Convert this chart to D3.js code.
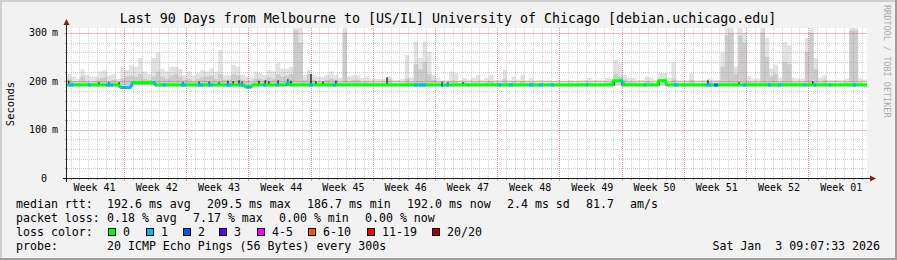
<!DOCTYPE html>
<html>
<head>
<meta charset="utf-8">
<script src="https://cdn.jsdelivr.net/npm/d3@7"></script>
<style>
body { margin: 0; background: #f2f2f2; }
svg text { font-family: "DejaVu Sans Mono", monospace; white-space: pre; }
</style>
</head>
<body>
<script>
var width = 897;
var height = 260;
var plot = {left: 67, right: 867, top: 28, bottom: 178};   //canvas box

var title = "Last 90 Days from Melbourne to [US/IL] University of Chicago [debian.uchicago.edu]";

//axis ticks
var yTicks = [0, 100, 200, 300];
var yTickNums = ["0", "100", "200", "300"];
var yTickUnits = ["", "m", "m", "m"];
var weekLabels = ["Week 41", "Week 42", "Week 43", "Week 44", "Week 45", "Week 46", "Week 47",
                  "Week 48", "Week 49", "Week 50", "Week 51", "Week 52", "Week 01"];
var weekLabelDays = [3.1, 10.1, 17.1, 24.1, 31.1, 38.1, 45.1, 52.1, 59.1, 66.1, 73.1, 80.1, 87.1];
var weekBoundaryDays = [6.4, 13.4, 20.4, 27.4, 34.4, 41.4, 48.4, 55.4, 62.4, 69.4, 76.4, 83.4];

//median rtt (ms), breakpoints in days from graph start
var medianDays = [0, 5.74, 6.07, 7.09, 7.42, 9.79, 10.01, 19.9, 20.1, 20.7, 20.9, 24.6, 24.9, 25.1,
                  61.3, 61.5, 62.4, 62.7, 66.4, 66.6, 67.3, 67.5, 90];
var medianMs = [192, 192, 187, 187, 197, 197, 192, 192, 188, 188, 192, 192, 197, 192,
                192, 201, 201, 192, 192, 201, 201, 192, 192];

//smoke, one value per half day (ms)
var smokeHi = [
  215,210,205,224,213,210,210,220,223,212, 215,205,230,223,234,230,248,220,215,248,
  260,226,220,230,230,226,213,220,212,217, 223,220,226,220,265,213,213,234,230,213,
  210,207,220,217,213,223,220,238,226,226, 230,310,310,213,223,213,210,210,213,220,
  213,207,310,210,213,213,207,210,205,205, 205,205,210,203,203,205,254,207,282,248,
  282,261,213,207,202,202,220,217,203,207, 203,207,213,203,207,213,202,203,223,203,
  210,203,213,202,207,202,203,202,202,200, 203,201,201,202,201,202,203,207,203,203,
  202,207,207,244,238,213,207,207,203,203, 210,207,203,217,217,207,240,203,202,202,
  217,202,202,203,205,203,203,260,310,310, 230,310,300,210,205,205,310,290,226,234,
  207,281,275,207,205,205,290,310,248,207, 213,203,203,203,203,205,310,310,205,203
];
var smokeMid = [
  205,200,198,210,200,198,200,205,208,200, 203,198,205,210,212,210,215,205,203,210,
  220,210,205,212,215,210,203,205,200,205, 208,210,212,205,215,203,203,215,212,203,
  200,198,205,205,203,208,205,215,210,212, 215,305,280,203,215,203,200,200,203,205,
  203,198,300,200,203,203,198,200,197,197, 197,197,205,196,196,197,205,198,235,225,
  240,215,203,198,196,196,200,200,196,198, 196,198,200,196,198,200,196,196,205,196,
  200,196,200,196,198,196,196,196,196,195, 196,195,195,196,195,196,196,198,196,196,
  196,198,198,215,210,203,198,198,196,196, 200,198,196,205,205,198,205,196,196,196,
  203,196,196,196,200,196,196,230,295,300, 215,295,280,200,198,198,300,250,210,215,
  198,240,235,198,198,198,260,300,225,198, 203,196,196,196,196,198,305,305,198,196
];

//dark smoke marks next to the median
var darkDays = [0.2, 3.6, 4.7, 5.85, 13.05, 14.85, 16.0, 17.1, 18.1, 18.7, 19.35, 19.7, 21.6, 22.3, 22.7,
                23.75, 24.85, 25.2, 27.45, 28.0, 28.8, 30.25, 36.0, 42.2, 42.85, 44.55, 61.55, 62.45,
                66.6, 67.4, 72.1, 75.6, 83.9];
var darkMs = [201, 198, 198, 198, 198, 199, 199, 198, 201, 200, 202, 199, 201, 202, 200,
              202, 204, 201, 215, 200, 199, 201, 208, 199, 198, 198, 201, 201,
              201, 201, 202, 198, 200];

//packet loss periods (days) and loss class
var lossStart = [0.22, 2.36, 4.39, 6.07, 9.67, 10.80, 12.82, 14.74, 15.86, 17.89, 19.35, 20.14, 22.05,
                 23.51, 24.64, 27.22, 29.92, 39.04, 39.60, 42.07, 42.64, 45.11, 48.49, 49.72, 51.97,
                 53.10, 54.45, 58.39, 62.32, 64.91, 68.29, 71.89, 72.79, 76.05, 78.86, 79.99, 82.91,
                 84.04, 85.72, 88.42];
var lossEnd = [0.79, 2.70, 5.17, 7.42, 10.01, 11.14, 13.39, 15.30, 16.42, 18.45, 19.80, 20.70, 22.39,
               23.85, 24.97, 27.67, 30.26, 39.49, 40.39, 42.30, 42.97, 45.22, 48.82, 50.17, 52.42,
               53.55, 54.79, 58.61, 62.55, 65.13, 68.74, 72.45, 73.24, 76.39, 79.20, 80.33, 83.13,
               84.26, 85.95, 88.76];
var lossLevel = [1, 1, 1, 1, 1, 1, 1, 1, 1, 1, 1, 1, 1,
                 1, 1, 1, 1, 1, 1, 2, 1, 1, 1, 1, 1,
                 1, 1, 1, 1, 1, 1, 1, 2, 1, 1, 1, 1,
                 1, 1, 1];

var lossColors = ["#00ff00", "#00b8ff", "#0059ff", "#5e00ff", "#ff00ff", "#ff5500", "#ff0000", "#a10000"];
var lossNames = ["0", "1", "2", "3", "4-5", "6-10", "11-19", "20/20"];
var lossBoxX = [108, 146, 183, 219, 257, 308, 367, 432];

var statLine1 = ["192.6 ms avg", "209.5 ms max", "186.7 ms min", "192.0 ms now", "2.4 ms sd", "81.7", "am/s"];
var statLine1X = [107, 207, 307, 407, 507, 586, 630];
var statLine2 = ["0.18 % avg", "7.17 % max", "0.00 % min", "0.00 % now"];
var statLine2X = [107, 193, 279, 365];

var x = d3.scaleLinear().domain([0, 90]).range([plot.left, plot.right]);
var y = d3.scaleLinear().domain([0, 310]).range([plot.bottom, plot.top]);

var svg = d3.select("body").append("svg")
    .attr("width", width)
    .attr("height", height);

//background and 3d frame
svg.append("rect").attr("width", width).attr("height", height).attr("fill", "#f2f2f2");
svg.append("rect").attr("x", 0).attr("y", 0).attr("width", width).attr("height", 2).attr("fill", "#cfcfcf");
svg.append("rect").attr("x", 0).attr("y", 0).attr("width", 2).attr("height", height).attr("fill", "#cfcfcf");
svg.append("rect").attr("x", 0).attr("y", height - 2).attr("width", width).attr("height", 2).attr("fill", "#9e9e9e");
svg.append("rect").attr("x", width - 2).attr("y", 0).attr("width", 2).attr("height", height).attr("fill", "#9e9e9e");

//canvas
svg.append("rect")
    .attr("x", plot.left).attr("y", plot.top)
    .attr("width", plot.right - plot.left).attr("height", plot.bottom - plot.top)
    .attr("fill", "white");

//smoke
function smokeArea(vals){
    var pts = vals.map(function(v, i){ return [i * 0.5, v]; });
    pts.push([90, vals[vals.length - 1]]);
    return d3.area()
        .x(function(d){ return x(d[0]); })
        .y0(y(191))
        .y1(function(d){ return y(d[1]); })
        .curve(d3.curveStepAfter)(pts);
}
svg.append("path").attr("d", smokeArea(smokeHi)).attr("fill", "#e2e2e2");
svg.append("path").attr("d", smokeArea(smokeMid)).attr("fill", "#cbcbcb");

//grid
var minorColor = "rgba(143,143,143,0.4)";
var majorColor = "rgba(222,79,79,0.45)";
var minorDays = d3.range(0.4, 90, 1);
var gridG = svg.append("g");
gridG.selectAll(".vminor").data(minorDays).enter().append("line")
    .attr("x1", function(d){ return Math.round(x(d)) + 0.5; })
    .attr("x2", function(d){ return Math.round(x(d)) + 0.5; })
    .attr("y1", plot.top).attr("y2", plot.bottom)
    .attr("stroke", minorColor).attr("stroke-dasharray", "1,1");
gridG.selectAll(".vminortick").data(minorDays).enter().append("line")
    .attr("x1", function(d){ return Math.round(x(d)) + 0.5; })
    .attr("x2", function(d){ return Math.round(x(d)) + 0.5; })
    .attr("y1", plot.bottom).attr("y2", plot.bottom + 2)
    .attr("stroke", "rgba(143,143,143,0.8)");
var minorMs = d3.range(20, 301, 20);
gridG.selectAll(".hminor").data(minorMs).enter().append("line")
    .attr("x1", plot.left).attr("x2", plot.right)
    .attr("y1", function(d){ return Math.round(y(d)) + 0.5; })
    .attr("y2", function(d){ return Math.round(y(d)) + 0.5; })
    .attr("stroke", minorColor).attr("stroke-dasharray", "1,1");
gridG.selectAll(".hminortick").data(minorMs).enter().append("line")
    .attr("x1", plot.left - 2).attr("x2", plot.left)
    .attr("y1", function(d){ return Math.round(y(d)) + 0.5; })
    .attr("y2", function(d){ return Math.round(y(d)) + 0.5; })
    .attr("stroke", "rgba(143,143,143,0.8)");
gridG.selectAll(".vmajor").data(weekBoundaryDays).enter().append("line")
    .attr("x1", function(d){ return Math.round(x(d)) + 0.5; })
    .attr("x2", function(d){ return Math.round(x(d)) + 0.5; })
    .attr("y1", plot.top).attr("y2", plot.bottom + 3)
    .attr("stroke", majorColor).attr("stroke-dasharray", "1,1");
gridG.selectAll(".hmajor").data(yTicks.slice(1)).enter().append("line")
    .attr("x1", plot.left - 3).attr("x2", plot.right)
    .attr("y1", function(d){ return Math.round(y(d)) + 0.5; })
    .attr("y2", function(d){ return Math.round(y(d)) + 0.5; })
    .attr("stroke", majorColor).attr("stroke-dasharray", "1,1");

//dark smoke marks
svg.selectAll(".dark").data(darkDays).enter().append("rect")
    .attr("x", function(d){ return x(d) - 0.75; })
    .attr("width", 1.5)
    .attr("y", function(d, i){ return y(darkMs[i]); })
    .attr("height", function(d, i){ return y(191) - y(darkMs[i]); })
    .attr("fill", "#333333");

//median line, coloured by loss
var medianPts = medianDays.map(function(d, i){ return [d, medianMs[i]]; });
var medianLine = d3.line()
    .x(function(d){ return x(d[0]); })
    .y(function(d){ return y(d[1]); })(medianPts);
svg.append("path").attr("d", medianLine)
    .attr("fill", "none").attr("stroke", lossColors[0]).attr("stroke-width", 3);
var defs = svg.append("defs");
lossStart.forEach(function(s, i){
    defs.append("clipPath").attr("id", "loss" + i)
        .append("rect")
        .attr("x", x(s)).attr("width", x(lossEnd[i]) - x(s))
        .attr("y", plot.top).attr("height", plot.bottom - plot.top);
    svg.append("path").attr("d", medianLine)
        .attr("clip-path", "url(#loss" + i + ")")
        .attr("fill", "none").attr("stroke", lossColors[lossLevel[i]]).attr("stroke-width", 3);
});

//axes
var axisG = svg.append("g");
axisG.append("line").attr("x1", plot.left - 0.5).attr("x2", plot.left - 0.5)
    .attr("y1", plot.bottom + 4).attr("y2", plot.top - 4)
    .attr("stroke", "#1f1f1f");
axisG.append("line").attr("x1", plot.left - 4).attr("x2", plot.right + 3)
    .attr("y1", plot.bottom + 0.5).attr("y2", plot.bottom + 0.5)
    .attr("stroke", "#1f1f1f");
axisG.append("path")
    .attr("d", "M" + (plot.left - 3.5) + "," + (plot.top - 3) + "L" + (plot.left - 0.5) + "," + (plot.top - 9) +
               "L" + (plot.left + 2.5) + "," + (plot.top - 3) + "Z")
    .attr("fill", "#801f1f");
axisG.append("path")
    .attr("d", "M" + (plot.right + 3) + "," + (plot.bottom - 2.5) + "L" + (plot.right + 9) + "," + (plot.bottom + 0.5) +
               "L" + (plot.right + 3) + "," + (plot.bottom + 3.5) + "Z")
    .attr("fill", "#801f1f");

//tick labels
svg.selectAll(".ynum").data(yTicks).enter().append("text")
    .attr("x", 47).attr("y", function(d){ return y(d) + 3.5; })
    .attr("text-anchor", "end").attr("font-size", 10)
    .text(function(d, i){ return yTickNums[i]; });
svg.selectAll(".yunit").data(yTicks).enter().append("text")
    .attr("x", 52).attr("y", function(d){ return y(d) + 3.5; })
    .attr("font-size", 10)
    .text(function(d, i){ return yTickUnits[i]; });
svg.selectAll(".week").data(weekLabelDays).enter().append("text")
    .attr("x", function(d){ return x(d); }).attr("y", 191)
    .attr("text-anchor", "middle").attr("font-size", 10)
    .text(function(d, i){ return weekLabels[i]; });

//titles
svg.append("text").attr("x", 448).attr("y", 22.5)
    .attr("text-anchor", "middle").attr("font-size", 13.3)
    .text(title);
svg.append("text").attr("transform", "translate(14,104) rotate(-90)")
    .attr("text-anchor", "middle").attr("font-size", 10.5)
    .text("Seconds");
svg.append("text").attr("transform", "translate(884,5) rotate(90)")
    .attr("font-size", 8.5).attr("fill", "#aaaaaa")
    .text("RRDTOOL / TOBI OETIKER");

//legend
var legendSize = 11.6;
var rows = [208, 222, 236, 250];
svg.append("text").attr("x", 16).attr("y", rows[0]).attr("font-size", legendSize).text("median rtt:");
statLine1.forEach(function(t, i){
    svg.append("text").attr("x", statLine1X[i]).attr("y", rows[0]).attr("font-size", legendSize).text(t);
});
svg.append("text").attr("x", 16).attr("y", rows[1]).attr("font-size", legendSize).text("packet loss:");
statLine2.forEach(function(t, i){
    svg.append("text").attr("x", statLine2X[i]).attr("y", rows[1]).attr("font-size", legendSize).text(t);
});
svg.append("text").attr("x", 16).attr("y", rows[2]).attr("font-size", legendSize).text("loss color:");
lossNames.forEach(function(n, i){
    svg.append("rect").attr("x", lossBoxX[i] + 0.5).attr("y", 228.5).attr("width", 7).attr("height", 7)
        .attr("fill", lossColors[i]).attr("stroke", "black");
    svg.append("text").attr("x", lossBoxX[i] + 15).attr("y", rows[2]).attr("font-size", legendSize).text(n);
});
svg.append("text").attr("x", 16).attr("y", rows[3]).attr("font-size", legendSize).text("probe:");
svg.append("text").attr("x", 107).attr("y", rows[3]).attr("font-size", legendSize)
    .text("20 ICMP Echo Pings (56 Bytes) every 300s");
svg.append("text").attr("x", 880).attr("y", rows[3]).attr("text-anchor", "end").attr("font-size", legendSize)
    .text("Sat Jan  3 09:07:33 2026");
</script>
</body>
</html>
